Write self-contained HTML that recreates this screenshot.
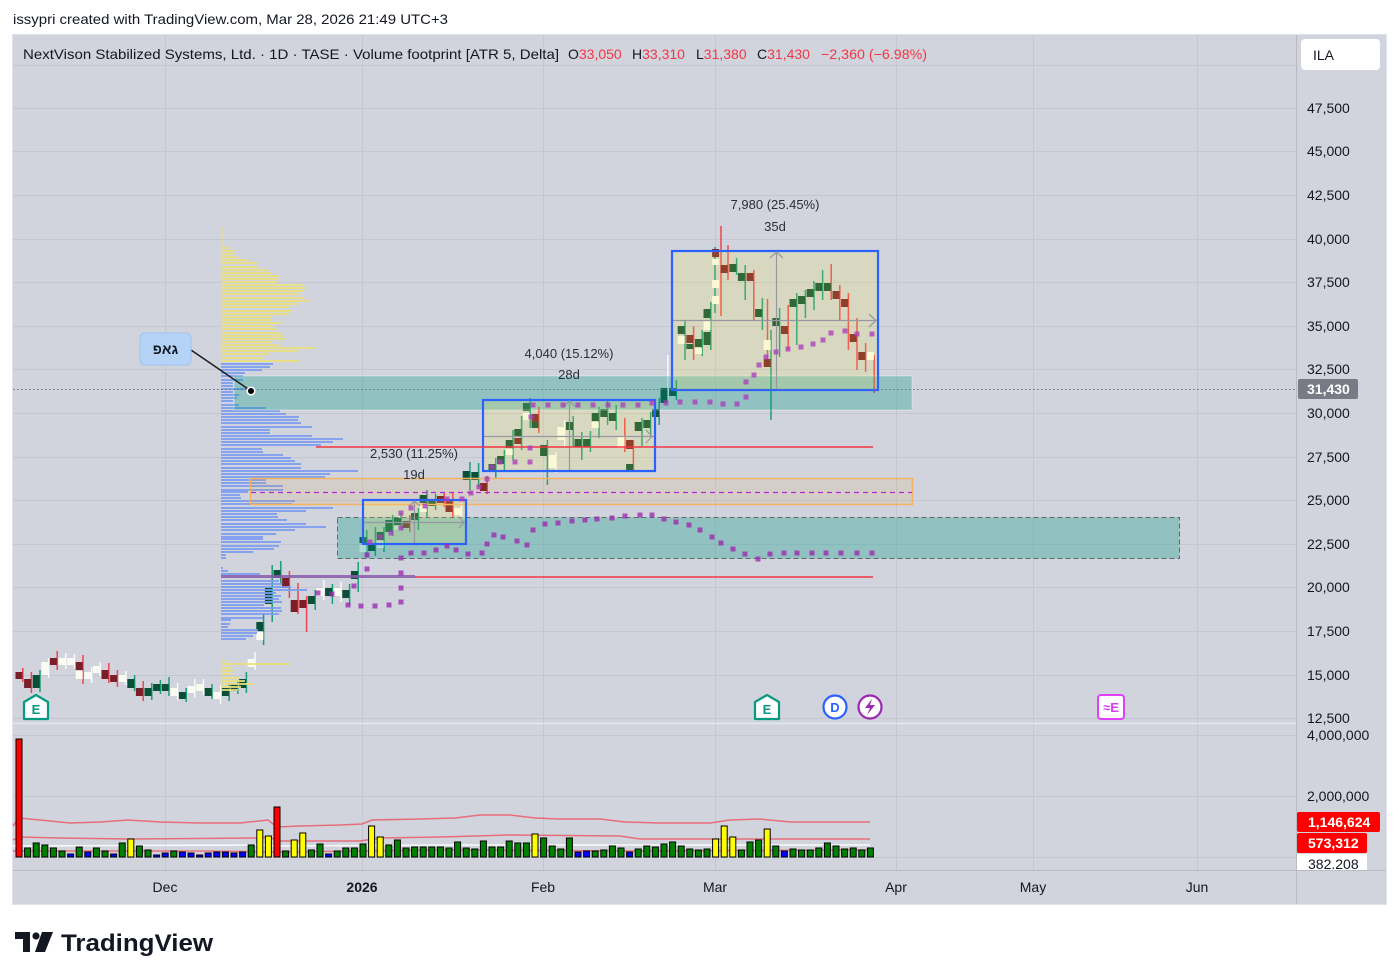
<!DOCTYPE html>
<html><head><meta charset="utf-8">
<style>
html,body{margin:0;padding:0;background:#fff;}
svg{display:block;font-family:"Liberation Sans","DejaVu Sans",sans-serif;}
</style></head>
<body>
<svg width="1399" height="980" viewBox="0 0 1399 980" xmlns="http://www.w3.org/2000/svg">
<rect width="1399" height="980" fill="#ffffff"/>
<text x="13" y="24" font-size="14" fill="#131722" textLength="435" lengthAdjust="spacingAndGlyphs">issypri created with TradingView.com, Mar 28, 2026 21:49 UTC+3</text>

<rect x="12.5" y="34.5" width="1374" height="870" fill="#d1d4dc" stroke="#e0e3eb"/>

<g stroke="#c4c7cf" stroke-width="1">
  <line x1="13" x2="1296" y1="65.5" y2="65.5"/>
  <line x1="13" x2="1296" y1="108.5" y2="108.5"/>
  <line x1="13" x2="1296" y1="151.5" y2="151.5"/>
  <line x1="13" x2="1296" y1="195.5" y2="195.5"/>
  <line x1="13" x2="1296" y1="239.5" y2="239.5"/>
  <line x1="13" x2="1296" y1="282.5" y2="282.5"/>
  <line x1="13" x2="1296" y1="326.5" y2="326.5"/>
  <line x1="13" x2="1296" y1="369.5" y2="369.5"/>
  <line x1="13" x2="1296" y1="413.5" y2="413.5"/>
  <line x1="13" x2="1296" y1="457.5" y2="457.5"/>
  <line x1="13" x2="1296" y1="500.5" y2="500.5"/>
  <line x1="13" x2="1296" y1="544.5" y2="544.5"/>
  <line x1="13" x2="1296" y1="587.5" y2="587.5"/>
  <line x1="13" x2="1296" y1="631.5" y2="631.5"/>
  <line x1="13" x2="1296" y1="675.5" y2="675.5"/>
  <line x1="13" x2="1296" y1="718.5" y2="718.5"/>
  <line x1="13" x2="1296" y1="735.5" y2="735.5"/>
  <line x1="13" x2="1296" y1="796.5" y2="796.5"/>
  <line x1="13" x2="1296" y1="857.5" y2="857.5"/>
  <line x1="165.5" x2="165.5" y1="35" y2="870"/>
  <line x1="362.5" x2="362.5" y1="35" y2="870"/>
  <line x1="543.5" x2="543.5" y1="35" y2="870"/>
  <line x1="715.5" x2="715.5" y1="35" y2="870"/>
  <line x1="896.5" x2="896.5" y1="35" y2="870"/>
  <line x1="1033.5" x2="1033.5" y1="35" y2="870"/>
  <line x1="1197.5" x2="1197.5" y1="35" y2="870"/>
</g>
<line x1="13" x2="1296" y1="723.5" y2="723.5" stroke="#e6e8ed" stroke-width="1.5"/>
<line x1="1296.5" x2="1296.5" y1="35" y2="904" stroke="#b8bbc3"/>
<line x1="13" x2="1386" y1="870.5" y2="870.5" stroke="#b8bbc3"/>

<!-- candle wicks -->
<path fill="none" stroke="#1a9e76" stroke-width="1.5" d="M40 670V692M134.6 675V691M151.8 683V700M160.4 680V694M169 677V696M186.2 688V702M212 684V699M229.2 683V701M237.8 680V694M246.4 672V693M263.6 613V645M272.2 565V622M280.8 561V585M315.2 590V610M332.4 584V604M349.6 584V606M358.2 562V592M366.8 530V557M375.4 527V556M384 527V552M392.6 515V536M401.2 513V530M418.4 508V530M427 490V517M435.6 494V510M470 462V490M478.6 463V487M495.8 458V478M504.4 450V472M513 430V460M521.6 416V450M530.2 398V428M547.4 440V485M573.2 416V447M581.8 432V460M590.4 431V452M599 407V438M607.6 400V425M616.2 405V430M642 418V446M650.6 412V437M659.2 398V425M676.4 380V400M685 320V360M702.2 330V356M710.8 302V350M715 247V313M736.6 258V275M745.2 265V300M762.4 298V330M771 330V420M779.6 308V357M796.8 293V345M805.4 290V318M814 281V310M822.6 270V300"/>
<path fill="none" stroke="#f0444f" stroke-width="1.5" d="M22.8 668V682M31.4 672V693M57.2 651V670M83 655V684M108.8 663V683M117.4 670V687M143.2 681V701M289.4 571V598M298 583V614M306.6 596V632M409.8 515V532M444.2 492V507M452.8 493V517M487.2 476V494M538.8 407V433M624.8 418V452M633.4 440V472M693.6 326V360M721 226V316M728 245V280M753.8 270V320M767.5 299V367M788.2 305V350M831.2 264V300M839.8 285V320M848.4 293V350M857 318V370M865.6 343V372M874.2 355V393"/>
<path fill="none" stroke="#ffffff" stroke-width="1.3" d="M48.6 658V678M65.8 653V669M74.4 654V668M91.6 667V683M100.2 662V676M126 671V685M177.6 683V700M194.8 679V698M203.4 679V695M220.6 685V704M255 652V670M323.8 580V600M341 582V602M461.4 503V519M556 452V473M564.6 420V447M667.8 355V405"/>
<!-- candle bodies -->
<path fill="#0b4f38" d="M32.7 675h7V688h-7zM127.3 679h7V688h-7zM144.5 688h7V696h-7zM153.1 684h7V691h-7zM161.7 684h7V691h-7zM178.9 692h7V699h-7zM204.7 688h7V696h-7zM221.9 688h7V696h-7zM230.5 684h7V691h-7zM239.1 679h7V688h-7zM256.3 622h7V631h-7zM264.9 588h7V604h-7zM273.5 570h7V578h-7zM307.9 596h7V604h-7zM325.1 588h7V596h-7zM342.3 590h7V598h-7zM350.9 571h7V579h-7zM359.5 537h7V543h-7zM368.1 544h7V551h-7zM376.7 532h7V540h-7zM385.3 520h7V532h-7zM393.9 518h7V525h-7zM411.1 513h7V520h-7zM419.7 495h7V503h-7zM428.3 499h7V506h-7zM462.7 471h7V480h-7zM471.3 472h7V480h-7zM488.5 464h7V472h-7zM497.1 456h7V464h-7zM505.7 440h7V448h-7zM514.3 429h7V437h-7zM522.9 403h7V411h-7zM540.1 445h7V456h-7zM565.9 422h7V430h-7zM574.5 439h7V447h-7zM583.1 439h7V447h-7zM591.7 413h7V421h-7zM600.3 409h7V417h-7zM608.9 413h7V421h-7zM626.1 464h7V471h-7zM634.7 422h7V431h-7zM643.3 420h7V428h-7zM651.9 409h7V417h-7zM660.5 388h7V403h-7zM669.1 388h7V396h-7zM677.7 326h7V334h-7zM694.9 339h7V347h-7zM703.5 309h7V318h-7zM703.5 332h7V345h-7zM729.3 264h7V272h-7zM737.9 273h7V281h-7zM755.1 309h7V317h-7zM772.3 318h7V326h-7zM789.5 299h7V307h-7zM798.1 296h7V304h-7zM806.7 289h7V297h-7zM815.3 283h7V291h-7zM823.9 283h7V291h-7zM531.5 422h7V428h-7zM686.3 344h7V349h-7z"/>
<path fill="#7a1f2a" d="M15.5 672h7V679h-7zM24.1 679h7V688h-7zM49.9 658h7V665h-7zM75.7 662h7V670h-7zM101.5 670h7V679h-7zM110.1 675h7V682h-7zM135.9 688h7V696h-7zM282.1 578h7V588h-7zM290.7 600h7V612h-7zM299.3 600h7V608h-7zM402.5 521h7V528h-7zM436.9 496h7V503h-7zM445.5 500h7V512h-7zM479.9 483h7V491h-7zM514.3 438h7V444h-7zM531.5 414h7V422h-7zM626.1 440h7V449h-7zM686.3 335h7V343h-7zM712.1 249h7V257h-7zM720.7 265h7V273h-7zM746.5 273h7V281h-7zM763.7 359h7V367h-7zM780.9 326h7V334h-7zM832.5 291h7V299h-7zM841.1 299h7V307h-7zM849.7 334h7V342h-7zM858.3 352h7V360h-7z"/>
<path fill="#fbfbf2" d="M41.3 662h7V675h-7zM58.5 658h7V665h-7zM67.1 658h7V665h-7zM75.7 671h7V679h-7zM84.3 672h7V679h-7zM92.9 666h7V673h-7zM118.7 675h7V682h-7zM170.3 688h7V696h-7zM187.5 686h7V693h-7zM196.1 684h7V691h-7zM213.3 692h7V699h-7zM247.7 659h7V667h-7zM256.3 632h7V640h-7zM316.5 588h7V596h-7zM333.7 588h7V596h-7zM359.5 545h7V552h-7zM376.7 541h7V548h-7zM393.9 526h7V530h-7zM419.7 504h7V512h-7zM454.1 508h7V515h-7zM505.7 449h7V455h-7zM522.9 413h7V420h-7zM548.7 455h7V468h-7zM557.3 427h7V440h-7zM591.7 422h7V428h-7zM617.5 436h7V448h-7zM677.7 336h7V344h-7zM694.9 348h7V354h-7zM703.5 320h7V330h-7zM712.1 259h7V265h-7zM712.1 280h7V288h-7zM712.1 296h7V304h-7zM763.7 340h7V350h-7zM866.9 352h7V360h-7z"/>

<!-- volume profile -->
<g opacity="0.88">
<path fill="#ece07a" d="M221 227h2v2h-2zM221 231h2v2h-2zM221 234h2v2h-2zM221 237h2v2h-2zM221 240h2v2h-2zM221 244h2v2h-2zM221 247h8v2h-8zM221 250h14v2h-14zM221 253h12v2h-12zM221 256h16v2h-16zM221 259h27v2h-27zM221 262h36v2h-36zM221 266h36v2h-36zM221 269h47v2h-47zM221 272h51v2h-51zM221 275h58v2h-58zM221 278h57v2h-57zM221 281h57v2h-57zM221 284h82v2h-82zM221 287h85v2h-85zM221 290h83v2h-83zM221 293h79v2h-79zM221 297h82v2h-82zM221 300h88v2h-88zM221 303h76v2h-76zM221 306h68v2h-68zM221 310h71v2h-71zM221 313h69v2h-69zM221 316h51v2h-51zM221 319h50v2h-50zM221 322h60v2h-60zM221 325h53v2h-53zM221 328h54v2h-54zM221 332h60v2h-60zM221 335h62v2h-62zM221 338h64v2h-64zM221 341h51v2h-51zM221 344h59v2h-59zM221 347h95v2h-95zM221 350h76v2h-76zM221 353h49v2h-49zM221 357h43v2h-43zM221 360h78v2h-78zM221 660h5v2h-5zM221 663h69v2h-69zM221 667h11v2h-11zM221 670h12v2h-12zM221 673h10v2h-10zM221 677h18v2h-18zM221 680h24v2h-24zM221 683h32v2h-32zM221 686h20v2h-20zM221 689h17v2h-17z"/>
<path fill="#7a9cf0" d="M221 363h52v2h-52zM221 366h49v2h-49zM221 369h41v2h-41zM221 372h24v2h-24zM221 375h22v2h-22zM221 379h22v2h-22zM221 382h12v2h-12zM221 385h12v2h-12zM221 388h34v2h-34zM221 391h12v2h-12zM221 394h18v2h-18zM221 397h16v2h-16zM221 400h12v2h-12zM221 404h18v2h-18zM221 407h45v2h-45zM221 410h59v2h-59zM221 413h65v2h-65zM221 416h78v2h-78zM221 419h77v2h-77zM221 422h80v2h-80zM221 426h91v2h-91zM221 429h49v2h-49zM221 432h49v2h-49zM221 435h91v2h-91zM221 438h122v2h-122zM221 441h112v2h-112zM221 444h100v2h-100zM221 448h41v2h-41zM221 451h42v2h-42zM221 454h62v2h-62zM221 457h70v2h-70zM221 460h74v2h-74zM221 463h80v2h-80zM221 467h80v2h-80zM221 470h137v2h-137zM221 473h109v2h-109zM221 476h104v2h-104zM221 479h45v2h-45zM221 482h45v2h-45zM221 485h62v2h-62zM221 489h62v2h-62zM221 491h27v2h-27zM221 494h19v2h-19zM221 497h20v2h-20zM221 500h74v2h-74zM221 503h71v2h-71zM221 507h112v2h-112zM221 510h85v2h-85zM221 513h56v2h-56zM221 516h57v2h-57zM221 519h66v2h-66zM221 523h85v2h-85zM221 526h105v2h-105zM221 529h74v2h-74zM221 533h55v2h-55zM221 536h42v2h-42zM221 538h42v2h-42zM221 541h60v2h-60zM221 545h58v2h-58zM221 548h53v2h-53zM221 551h32v2h-32zM221 554h5v2h-5zM221 557h5v2h-5zM221 567h2v2h-2zM221 570h7v2h-7zM221 573h39v2h-39zM221 580h58v2h-58zM221 583h60v2h-60zM221 586h70v2h-70zM221 589h86v2h-86zM221 592h55v2h-55zM221 595h60v2h-60zM221 598h58v2h-58zM221 601h61v2h-61zM221 604h43v2h-43zM221 607h60v2h-60zM221 610h61v2h-61zM221 613h58v2h-58zM221 617h42v2h-42zM221 619h10v2h-10zM221 623h9v2h-9zM221 626h7v2h-7zM221 629h37v2h-37zM221 632h36v2h-36zM221 635h32v2h-32zM221 638h25v2h-25z"/>
</g>

<!-- shaded zones -->
<rect x="234" y="376" width="678" height="34" fill="rgba(0,150,136,0.3)" stroke="rgba(255,255,255,0.35)" stroke-width="1"/>
<rect x="250.5" y="478.5" width="662" height="26" fill="rgba(255,152,0,0.09)" stroke="#f2b263" stroke-width="1.5"/>
<line x1="251" x2="912" y1="492.5" y2="492.5" stroke="#b02ad0" stroke-width="1.3" stroke-dasharray="5 4"/>
<rect x="337.5" y="517.5" width="842" height="41" fill="rgba(0,150,136,0.3)" stroke="#5d6a6a" stroke-width="1" stroke-dasharray="5 3"/>

<!-- range boxes -->
<rect x="363" y="500" width="103" height="44" fill="rgba(255,235,59,0.16)" stroke="#2962ff" stroke-width="2.2"/>
<rect x="483" y="400" width="172" height="71" fill="rgba(255,235,59,0.16)" stroke="#2962ff" stroke-width="2.2"/>
<rect x="672" y="251" width="206" height="139" fill="rgba(255,235,59,0.16)" stroke="#2962ff" stroke-width="2.2"/>
<g stroke="#9598a1" stroke-width="1.2" fill="none">
  <line x1="414.5" x2="414.5" y1="501" y2="543"/>
  <line x1="364" x2="465" y1="522.5" y2="522.5"/>
  <polyline points="459,517 464,522.5 459,528"/>
  <polyline points="409,506 414.5,501 420,506"/>
  <line x1="569.5" x2="569.5" y1="401" y2="470"/>
  <line x1="484" x2="654" y1="436.5" y2="436.5"/>
  <polyline points="646,430 652,436.5 646,443"/>
  <polyline points="563,407 569.5,401 576,407"/>
  <line x1="776.5" x2="776.5" y1="252" y2="389"/>
  <line x1="673" x2="877" y1="320.5" y2="320.5"/>
  <polyline points="869,314 876,320.5 869,327"/>
  <polyline points="770,258 776.5,252 783,258"/>
</g>
<g font-size="13" fill="#2a2e39" text-anchor="middle">
  <text x="414" y="458">2,530 (11.25%)</text>
  <text x="414" y="479">19d</text>
  <text x="569" y="358">4,040 (15.12%)</text>
  <text x="569" y="379">28d</text>
  <text x="775" y="209">7,980 (25.45%)</text>
  <text x="775" y="231">35d</text>
</g>

<!-- horizontal lines -->
<line x1="316" x2="873" y1="447" y2="447" stroke="#f23645" stroke-width="1.6"/>
<line x1="415" x2="873" y1="577" y2="577" stroke="#f23645" stroke-width="1.6"/>
<line x1="221" x2="415" y1="576.5" y2="576.5" stroke="#8a5aaa" stroke-width="3" opacity="0.85"/>
<line x1="13" x2="1296" y1="389.5" y2="389.5" stroke="#6a6d78" stroke-width="1" stroke-dasharray="1.5 2.5"/>

<!-- purple dots -->
<path fill="#9c27b0" opacity="0.78" d="M315.5 590.5h5v5h-5zM329.5 591.5h5v5h-5zM345.5 602.5h5v5h-5zM358.5 603.5h5v5h-5zM372.5 603.5h5v5h-5zM386.5 602.5h5v5h-5zM351.5 583.5h5v5h-5zM364.5 566.5h5v5h-5zM364.5 552.5h5v5h-5zM398.5 599.5h5v5h-5zM398.5 585.5h5v5h-5zM398.5 570.5h5v5h-5zM398.5 555.5h5v5h-5zM408.5 550.5h5v5h-5zM421.5 550.5h5v5h-5zM433.5 547.5h5v5h-5zM444.5 543.5h5v5h-5zM453.5 547.5h5v5h-5zM465.5 551.5h5v5h-5zM479.5 550.5h5v5h-5zM484.5 541.5h5v5h-5zM491.5 532.5h5v5h-5zM500.5 534.5h5v5h-5zM514.5 538.5h5v5h-5zM524.5 542.5h5v5h-5zM530.5 527.5h5v5h-5zM542.5 521.5h5v5h-5zM555.5 520.5h5v5h-5zM569.5 518.5h5v5h-5zM582.5 517.5h5v5h-5zM594.5 516.5h5v5h-5zM609.5 515.5h5v5h-5zM622.5 513.5h5v5h-5zM637.5 512.5h5v5h-5zM649.5 512.5h5v5h-5zM661.5 516.5h5v5h-5zM673.5 519.5h5v5h-5zM686.5 522.5h5v5h-5zM697.5 527.5h5v5h-5zM709.5 534.5h5v5h-5zM718.5 540.5h5v5h-5zM730.5 546.5h5v5h-5zM742.5 551.5h5v5h-5zM755.5 556.5h5v5h-5zM767.5 551.5h5v5h-5zM781.5 550.5h5v5h-5zM794.5 550.5h5v5h-5zM809.5 550.5h5v5h-5zM823.5 550.5h5v5h-5zM838.5 550.5h5v5h-5zM854.5 550.5h5v5h-5zM869.5 550.5h5v5h-5z"/>
<path fill="#a93cbc" opacity="0.78" d="M367.5 539.5h5v5h-5zM377.5 534.5h5v5h-5zM388.5 530.5h5v5h-5zM398.5 525.5h5v5h-5zM398.5 510.5h5v5h-5zM408.5 505.5h5v5h-5zM422.5 503.5h5v5h-5zM444.5 496.5h5v5h-5zM459.5 496.5h5v5h-5zM468.5 490.5h5v5h-5zM476.5 484.5h5v5h-5zM484.5 476.5h5v5h-5zM489.5 464.5h5v5h-5zM497.5 459.5h5v5h-5zM512.5 459.5h5v5h-5zM527.5 459.5h5v5h-5zM527.5 445.5h5v5h-5zM528.5 414.5h5v5h-5zM530.5 402.5h5v5h-5zM545.5 402.5h5v5h-5zM560.5 402.5h5v5h-5zM575.5 402.5h5v5h-5zM590.5 402.5h5v5h-5zM605.5 402.5h5v5h-5zM620.5 402.5h5v5h-5zM635.5 402.5h5v5h-5zM649.5 400.5h5v5h-5zM663.5 400.5h5v5h-5zM677.5 399.5h5v5h-5zM692.5 399.5h5v5h-5zM707.5 399.5h5v5h-5zM720.5 401.5h5v5h-5zM734.5 401.5h5v5h-5zM743.5 394.5h5v5h-5zM743.5 379.5h5v5h-5zM751.5 372.5h5v5h-5zM756.5 362.5h5v5h-5zM763.5 354.5h5v5h-5zM773.5 349.5h5v5h-5zM785.5 346.5h5v5h-5zM798.5 344.5h5v5h-5zM810.5 341.5h5v5h-5zM820.5 337.5h5v5h-5zM828.5 330.5h5v5h-5zM842.5 328.5h5v5h-5zM854.5 331.5h5v5h-5zM869.5 331.5h5v5h-5z"/>

<!-- volume MA lines -->
<g fill="none" stroke-width="1.5">
<polyline stroke="rgba(242,54,69,0.65)" points="13,826 19,818 40,820 70,823 100,822 128,820 160,822 200,823 240,823 268,820 277,827 300,826 340,825 362,824 372,820 420,819 455,818 480,815 510,815 535,818 560,819 600,819 625,822 660,823 710,823 730,820 760,819 790,822 830,822 870,822"/>
<polyline stroke="rgba(242,54,69,0.65)" points="13,840 19,837 60,838 130,839 260,838 268,837 280,841 360,841 380,838 440,837 510,835 620,836 640,839 870,839"/>
<polyline stroke="rgba(255,255,255,0.85)" points="13,846 260,845 280,846 440,845 620,845 870,845"/>
<polyline stroke="rgba(242,54,69,0.6)" points="13,851 200,851 280,852 440,850 640,851 870,850"/>
</g>
<!-- volume bars -->
<g stroke="#000" stroke-width="1">
<path fill="#ff0000" d="M16 739h6V857h-6zM274 807h6V857h-6z"/>
<path fill="#ffff00" d="M127.8 839h6V857h-6zM256.8 830h6V857h-6zM265.4 836h6V857h-6zM291.2 840h6V857h-6zM299.8 833h6V857h-6zM368.6 826h6V857h-6zM377.2 837h6V857h-6zM532 834h6V857h-6zM712.6 839h6V857h-6zM721.2 826h6V857h-6zM729.8 837h6V857h-6zM764.2 829h6V857h-6z"/>
<path fill="#0000ff" d="M67.6 854h6V857h-6zM84.8 852h6V857h-6zM110.6 854h6V857h-6zM153.6 855h6V857h-6zM162.2 853h6V857h-6zM179.4 852h6V857h-6zM188 853h6V857h-6zM196.6 855h6V857h-6zM205.2 853h6V857h-6zM213.8 852h6V857h-6zM222.4 852h6V857h-6zM231 853h6V857h-6zM239.6 852h6V857h-6zM325.6 854h6V857h-6zM575 852h6V857h-6zM583.6 851h6V857h-6zM626.6 852h6V857h-6zM781.4 851h6V857h-6z"/>
<path fill="#008000" d="M24.6 848h6V857h-6zM33.2 843h6V857h-6zM41.8 845h6V857h-6zM50.4 848h6V857h-6zM59 851h6V857h-6zM76.2 847h6V857h-6zM93.4 848h6V857h-6zM102 851h6V857h-6zM119.2 843h6V857h-6zM136.4 846h6V857h-6zM145 850h6V857h-6zM170.8 851h6V857h-6zM248.2 845h6V857h-6zM282.6 851h6V857h-6zM308.4 850h6V857h-6zM317 844h6V857h-6zM334.2 851h6V857h-6zM342.8 848h6V857h-6zM351.4 848h6V857h-6zM360 844h6V857h-6zM385.8 845h6V857h-6zM394.4 840h6V857h-6zM403 848h6V857h-6zM411.6 847h6V857h-6zM420.2 847h6V857h-6zM428.8 847h6V857h-6zM437.4 847h6V857h-6zM446 848h6V857h-6zM454.6 842h6V857h-6zM463.2 848h6V857h-6zM471.8 849h6V857h-6zM480.4 841h6V857h-6zM489 847h6V857h-6zM497.6 847h6V857h-6zM506.2 841h6V857h-6zM514.8 843h6V857h-6zM523.4 843h6V857h-6zM540.6 838h6V857h-6zM549.2 846h6V857h-6zM557.8 849h6V857h-6zM566.4 838h6V857h-6zM592.2 851h6V857h-6zM600.8 850h6V857h-6zM609.4 846h6V857h-6zM618 848h6V857h-6zM635.2 849h6V857h-6zM643.8 846h6V857h-6zM652.4 847h6V857h-6zM661 844h6V857h-6zM669.6 842h6V857h-6zM678.2 846h6V857h-6zM686.8 849h6V857h-6zM695.4 850h6V857h-6zM704 849h6V857h-6zM738.4 850h6V857h-6zM747 842h6V857h-6zM755.6 840h6V857h-6zM772.8 846h6V857h-6zM790 849h6V857h-6zM798.6 850h6V857h-6zM807.2 850h6V857h-6zM815.8 848h6V857h-6zM824.4 843h6V857h-6zM833 846h6V857h-6zM841.6 849h6V857h-6zM850.2 848h6V857h-6zM858.8 850h6V857h-6zM867.4 848h6V857h-6z"/>
</g>

<!-- callout -->
<line x1="191" y1="350" x2="251" y2="391" stroke="#1e1e1e" stroke-width="1.5"/>
<circle cx="251" cy="391" r="3.8" fill="#000" stroke="#fff" stroke-width="1.5"/>
<rect x="140" y="333" width="51" height="32" rx="5" fill="#b5d3f7" stroke="#9fc2ee"/>
<text x="165.5" y="354" font-size="14" font-weight="bold" fill="#131722" text-anchor="middle">גאפ</text>

<!-- legend -->
<g font-size="14" fill="#131722">
  <text x="23" y="59" textLength="536" lengthAdjust="spacingAndGlyphs">NextVison Stabilized Systems, Ltd. · 1D · TASE · Volume footprint [ATR 5, Delta]</text>
  <text x="568" y="59">O<tspan fill="#f23645">33,050</tspan></text>
  <text x="632" y="59">H<tspan fill="#f23645">33,310</tspan></text>
  <text x="696" y="59">L<tspan fill="#f23645">31,380</tspan></text>
  <text x="757" y="59">C<tspan fill="#f23645">31,430</tspan></text>
  <text x="821" y="59" fill="#f23645" textLength="106" lengthAdjust="spacingAndGlyphs">−2,360 (−6.98%)</text>
</g>

<!-- right axis -->
<rect x="1301" y="39" width="79" height="31" rx="4" fill="#ffffff"/>
<text x="1313" y="60" font-size="14" fill="#131722">ILA</text>
<g font-size="14" fill="#131722">
  <text x="1307" y="113">47,500</text>
  <text x="1307" y="156">45,000</text>
  <text x="1307" y="200">42,500</text>
  <text x="1307" y="244">40,000</text>
  <text x="1307" y="287">37,500</text>
  <text x="1307" y="331">35,000</text>
  <text x="1307" y="374">32,500</text>
  <text x="1307" y="418">30,000</text>
  <text x="1307" y="462">27,500</text>
  <text x="1307" y="505">25,000</text>
  <text x="1307" y="549">22,500</text>
  <text x="1307" y="592">20,000</text>
  <text x="1307" y="636">17,500</text>
  <text x="1307" y="680">15,000</text>
  <text x="1307" y="723">12,500</text>
  <text x="1307" y="740">4,000,000</text>
  <text x="1307" y="801">2,000,000</text>
</g>
<rect x="1298" y="379" width="60" height="20" rx="2" fill="#787b86"/>
<text x="1307" y="394" font-size="14" font-weight="bold" fill="#ffffff">31,430</text>
<defs><clipPath id="vc"><rect x="1296" y="800" width="100" height="70"/></clipPath></defs>
<g clip-path="url(#vc)">
  <rect x="1297" y="854" width="70" height="18" fill="#ffffff"/>
  <text x="1308" y="869" font-size="14" fill="#131722">382.208</text>
  <rect x="1297" y="833" width="70" height="20" rx="2" fill="#ff0000"/>
  <text x="1308" y="848" font-size="14" font-weight="bold" fill="#ffffff">573,312</text>
  <rect x="1297" y="812" width="83" height="20" rx="2" fill="#ff0000"/>
  <text x="1308" y="827" font-size="14" font-weight="bold" fill="#ffffff">1,146,624</text>
</g>

<!-- time axis -->
<g font-size="14" fill="#131722" text-anchor="middle">
  <text x="165" y="892">Dec</text>
  <text x="362" y="892" font-weight="bold">2026</text>
  <text x="543" y="892">Feb</text>
  <text x="715" y="892">Mar</text>
  <text x="896" y="892">Apr</text>
  <text x="1033" y="892">May</text>
  <text x="1197" y="892">Jun</text>
</g>

<!-- event icons -->
<g>
  <path d="M36,695 L48,702 L48,719 L24,719 L24,702 Z" fill="#fff" stroke="#089981" stroke-width="2.2" stroke-linejoin="round"/>
  <text x="36" y="714" font-size="13" font-weight="bold" fill="#089981" text-anchor="middle">E</text>
  <path d="M767,695 L779,702 L779,719 L755,719 L755,702 Z" fill="#fff" stroke="#089981" stroke-width="2.2" stroke-linejoin="round"/>
  <text x="767" y="714" font-size="13" font-weight="bold" fill="#089981" text-anchor="middle">E</text>
  <circle cx="835" cy="707" r="11.5" fill="#fff" stroke="#2962ff" stroke-width="2.2"/>
  <text x="835" y="712" font-size="13" font-weight="bold" fill="#2962ff" text-anchor="middle">D</text>
  <circle cx="870" cy="707" r="11.5" fill="#fff" stroke="#9c27b0" stroke-width="2.2"/>
  <path d="M872,699 L865,708 L870,708 L867,715 L875,705 L870,705 Z" fill="#9c27b0"/>
  <rect x="1098" y="695" width="26" height="24" rx="3" fill="#fff" stroke="#e040fb" stroke-width="2"/>
  <text x="1111" y="712" font-size="13" font-weight="bold" fill="#d63cf0" text-anchor="middle">≈E</text>
</g>

<!-- footer logo -->
<g fill="#131722">
  <path d="M15,932 H30 V952 H23 V939 H15 Z"/>
  <circle cx="36" cy="936" r="3.6"/>
  <path d="M42,932 H53 L45,952 H35 Z"/>
  <text x="61" y="951" font-size="24" font-weight="bold" textLength="152" lengthAdjust="spacingAndGlyphs">TradingView</text>
</g>
</svg>
</body></html>
